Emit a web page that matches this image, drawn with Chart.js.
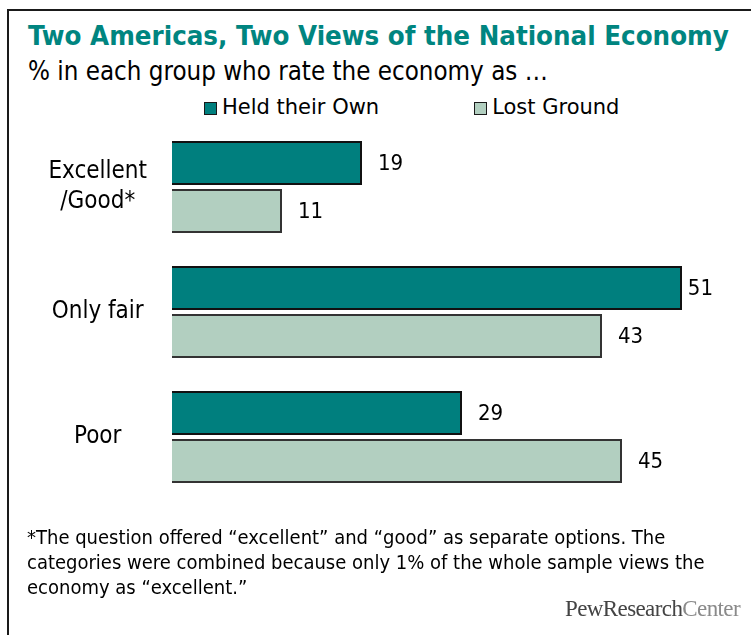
<!DOCTYPE html>
<html>
<head>
<meta charset="utf-8">
<title>Two Americas, Two Views of the National Economy</title>
<script src="https://cdn.jsdelivr.net/npm/chart.js@4"></script>
<style>
  body { margin: 0; background: #fff; }
  #wrap {
    position: relative; width: 751px; height: 635px; overflow: hidden;
    background: #fff; font-family: "DejaVu Sans Condensed", "DejaVu Sans", sans-serif; color: #000;
  }
  #frame {
    position: absolute; left: 7px; top: 9px; width: 900px; height: 800px;
    border-left: 2px solid #1a1a1a; border-top: 2px solid #1a1a1a;
  }
  #title {
    position: absolute; left: 28px; top: 20px; white-space: nowrap;
    font-size: 27.4px; font-weight: bold; color: #008580;
  }
  #subtitle {
    position: absolute; left: 28px; top: 56px; white-space: nowrap; font-size: 25.7px;
  }
  #legend {
    position: absolute; left: 204px; top: 95px; white-space: nowrap;
    font-family: "DejaVu Sans", sans-serif; font-size: 21px;
  }
  #legend span.item { display: inline-block; margin-right: 95px; }
  #legend i {
    display: inline-block; width: 11px; height: 11px; border: 1.5px solid #1a1a1a;
    margin-right: 5px; vertical-align: -1px;
  }
  #note {
    position: absolute; left: 27px; top: 525px; white-space: nowrap; font-size: 20px; line-height: 25px;
  }
  #logo {
    position: absolute; right: 11px; top: 596px; font-family: "Liberation Serif", serif;
    font-size: 23px; letter-spacing: -0.6px; color: #444;
  }
  #logo span { color: #8a8a8a; }
  canvas { position: absolute; left: 0; top: 0; }
</style>
</head>
<body>
<div id="wrap">
  <div id="frame"></div>
  <div id="title">Two Americas, Two Views of the National Economy</div>
  <div id="subtitle">% in each group who rate the economy as …</div>
  <div id="legend"></div>
  <canvas id="chart" width="751" height="635"></canvas>
  <div id="note">*The question offered “excellent” and “good” as separate options. The<br>categories were combined because only 1% of the whole sample views the<br>economy as “excellent.”</div>
  <div id="logo">PewResearch<span>Center</span></div>
</div>
<script>
// ratings, top to bottom
var categories = [['Excellent', '/Good*'], 'Only fair', 'Poor'];
var seriesNames = ['Held their Own', 'Lost Ground'];
var heldOwn = [19, 51, 29];
var lostGround = [11, 43, 45];

var fillColors = ['#007f7e', '#b2cfc0'];
var edgeColors = ['#111111', '#333333'];
var fontFamily = '"DejaVu Sans Condensed", "DejaVu Sans", sans-serif';

// legend above the bars
var legend = document.getElementById('legend');
seriesNames.forEach(function(name, i) {
    var item = document.createElement('span');
    item.className = 'item';
    var box = document.createElement('i');
    box.style.background = fillColors[i];
    item.appendChild(box);
    item.appendChild(document.createTextNode(name));
    legend.appendChild(item);
});

// numbers printed past the end of each bar
var valueLabels = {
    id: 'valueLabels',
    afterDatasetsDraw: function(chart) {
        var ctx = chart.ctx;
        ctx.save();
        ctx.font = '22px ' + fontFamily;
        ctx.fillStyle = '#000';
        ctx.textBaseline = 'middle';
        chart.data.datasets.forEach(function(ds, i) {
            chart.getDatasetMeta(i).data.forEach(function(bar, j) {
                var txt = String(ds.data[j]);
                var w = ctx.measureText(txt).width;
                var x = Math.min(bar.x + 16, 713 - w);
                ctx.fillText(txt, x, bar.y + 1);
            });
        });
        ctx.restore();
    }
};

var ctx = document.getElementById('chart').getContext('2d');
var chart = new Chart(ctx, {
    type: 'bar',
    data: {
        labels: categories,
        datasets: [{
            label: seriesNames[0],
            data: heldOwn,
            backgroundColor: fillColors[0],
            borderColor: edgeColors[0],
            borderWidth: 2
        }, {
            label: seriesNames[1],
            data: lostGround,
            backgroundColor: fillColors[1],
            borderColor: edgeColors[1],
            borderWidth: 2
        }]
    },
    options: {
        indexAxis: 'y',
        responsive: false,
        animation: false,
        categoryPercentage: 0.768,
        barPercentage: 0.917,
        layout: { padding: { left: 0, right: 29, top: 124.5, bottom: 135.5 } },
        plugins: {
            legend: { display: false },
            tooltip: { enabled: false }
        },
        scales: {
            x: { display: false, min: 0, max: 55 },
            y: {
                grid: { display: false, drawTicks: false },
                border: { display: false },
                ticks: {
                    color: '#000',
                    crossAlign: 'center',
                    padding: 25,
                    font: { family: fontFamily, size: 24, lineHeight: 1.25 }
                },
                afterFit: function(scale) { scale.width = 172; }
            }
        }
    },
    plugins: [valueLabels]
});
</script>
</body>
</html>
